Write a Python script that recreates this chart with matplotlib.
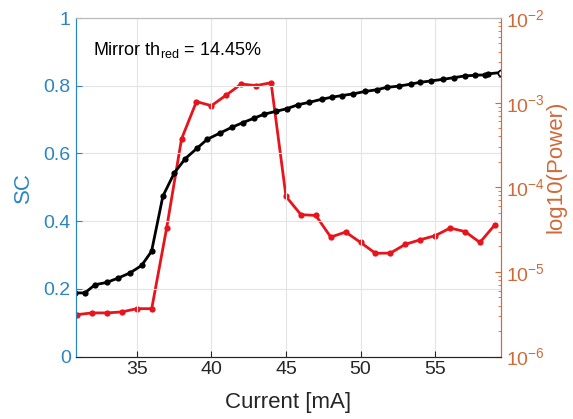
import numpy as np
import matplotlib
matplotlib.use("Agg")
import matplotlib.pyplot as plt
from matplotlib.ticker import LogLocator, NullFormatter

plt.rcParams['font.family'] = ['Liberation Sans', 'DejaVu Sans']
plt.rcParams['mathtext.fontset'] = 'custom'
plt.rcParams['mathtext.rm'] = 'Liberation Sans'

# SC curve (black), left axis
sc_current = [30.85, 31.52, 32.19, 32.98, 33.76, 34.54, 35.32, 35.99, 36.75, 37.52,
              38.26, 39.03, 39.73, 40.57, 41.36, 42.11, 42.85, 43.54, 44.30, 45.04,
              45.82, 46.56, 47.39, 48.06, 48.75, 49.51, 50.29, 51.07, 51.74, 52.59,
              53.37, 53.98, 54.69, 55.54, 56.27, 56.99, 57.70, 58.33, 58.55, 59.39]
sc_values = [0.188, 0.188, 0.212, 0.219, 0.232, 0.247, 0.269, 0.311, 0.474, 0.543,
             0.585, 0.615, 0.642, 0.660, 0.677, 0.691, 0.704, 0.716, 0.724, 0.732,
             0.744, 0.751, 0.760, 0.766, 0.771, 0.776, 0.783, 0.788, 0.795, 0.799,
             0.805, 0.810, 0.814, 0.819, 0.824, 0.829, 0.831, 0.832, 0.835, 0.839]

# power curve (red), right log axis
pw_current = list(range(31, 60))
pw_values = [3.13e-6, 3.28e-6, 3.28e-6, 3.37e-6, 3.68e-6, 3.68e-6, 3.3e-5, 3.73e-4,
             1.03e-3, 9.2e-4, 1.23e-3, 1.66e-3, 1.59e-3, 1.72e-3, 7.8e-5, 4.75e-5,
             4.65e-5, 2.58e-5, 2.96e-5, 2.23e-5, 1.66e-5, 1.67e-5, 2.12e-5, 2.4e-5,
             2.68e-5, 3.3e-5, 3.0e-5, 2.23e-5, 3.6e-5]

blue = '#2a86c0'
orange = '#cf6a3a'
dark = '#262626'

fig = plt.figure(figsize=(5.73, 4.19), dpi=100)
ax1 = fig.add_axes([0.132, 0.149, 0.742, 0.808])
ax2 = ax1.twinx()
ax1.set_zorder(ax2.get_zorder() + 1)
ax1.patch.set_visible(False)

ax2.semilogy(pw_current, pw_values, '-o', color='#E8141C', lw=2, ms=4.5,
             markeredgewidth=0)
ax1.plot(sc_current[:-1], sc_values[:-1], '-o', color='black', lw=2, ms=4.5,
         markeredgewidth=0)
ax1.plot(sc_current[-2:], sc_values[-2:], '-', color='black', lw=2)
ax1.plot(sc_current[-1], sc_values[-1], 'o', mfc='white', mec='black', ms=4.5, mew=1.2)

ax1.set_xlim(30.9, 59.4)
ax1.set_ylim(0, 1)
ax2.set_ylim(1e-6, 1e-2)
ax1.set_xticks([35, 40, 45, 50, 55])
ax1.set_yticks([0, 0.2, 0.4, 0.6, 0.8, 1])
ax1.set_yticklabels(['0', '0.2', '0.4', '0.6', '0.8', '1'])
ax2.yaxis.set_major_locator(LogLocator(base=10, numticks=10))
ax2.yaxis.set_minor_locator(LogLocator(base=10, subs=np.arange(2, 10), numticks=10))
ax2.yaxis.set_minor_formatter(NullFormatter())

ax1.grid(True, color='#e4e4e4', lw=0.8)
ax1.tick_params(direction='in', labelsize=14, length=4)
ax1.tick_params(axis='x', colors=dark)
ax1.tick_params(axis='y', colors=blue)
ax2.tick_params(which='both', direction='in', labelsize=14, colors=orange)
ax2.tick_params(which='major', length=4)
ax2.tick_params(which='minor', length=2.5)

for ax in (ax1, ax2):
    ax.spines['top'].set_color('#bbbbbb')
    ax.spines['bottom'].set_color(dark)
    ax.spines['left'].set_color(blue)
    ax.spines['right'].set_color(orange)

ax1.set_xlabel('Current [mA]', fontsize=16, color=dark, labelpad=10)
ax1.set_ylabel('SC', fontsize=16, color=blue, labelpad=7)
ax2.set_ylabel('log10(Power)', fontsize=16, color=orange)
ax2.yaxis.set_label_coords(1.105, 0.56)

ax1.text(0.04, 0.905, 'Mirror th$_{\\mathrm{red}}$ = 14.45%', transform=ax1.transAxes,
         fontsize=13, color='black', va='center')

fig.savefig('out.png', dpi=100)
